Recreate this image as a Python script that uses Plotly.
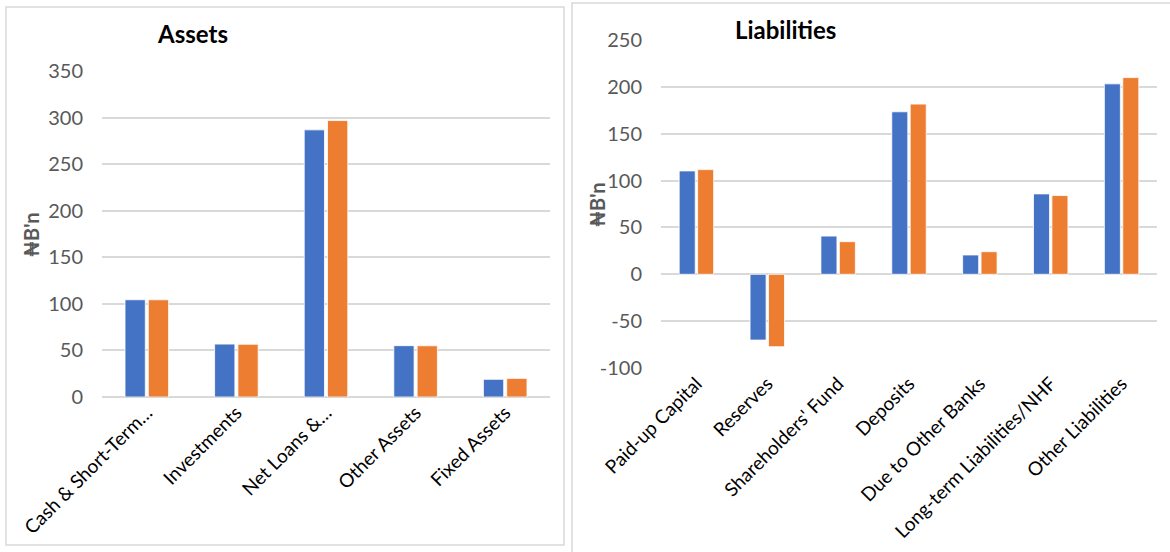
import plotly.graph_objects as go

W, H = 1170, 552

# Assets (left panel)
asset_categories = ["Cash & Short-Term…", "Investments", "Net Loans &…", "Other Assets", "Fixed Assets"]
assets_prev = [104.4, 56.8, 286.8, 55.1, 19.0]
assets_curr = [104.4, 56.6, 296.8, 55.0, 20.0]
asset_ticks = [0, 50, 100, 150, 200, 250, 300, 350]

# Liabilities (right panel)
liab_categories = ["Paid-up Capital", "Reserves", "Shareholders' Fund", "Deposits",
                   "Due to Other Banks", "Long-term Liabilities/NHF", "Other Liabilities"]
liab_prev = [110.3, -70.2, 40.8, 173.4, 20.6, 85.8, 203.2]
liab_curr = [111.7, -77.3, 34.8, 181.6, 24.1, 84.0, 209.9]
liab_ticks = [-100, -50, 0, 50, 100, 150, 200, 250]

BLUE = "#4472C4"
ORANGE = "#ED7D31"
GRID = "#d9d9d9"
TICK = "#595959"
FONT = "Lato"


def px_x(v):
    return v / W


def px_y(v):
    return 1 - v / H


fig = go.Figure()

bar_line = dict(color="white", width=0.8)
fig.add_trace(go.Bar(x=asset_categories, y=assets_prev, name="Prior year",
                     marker=dict(color=BLUE, line=bar_line), xaxis="x", yaxis="y"))
fig.add_trace(go.Bar(x=asset_categories, y=assets_curr, name="Current year",
                     marker=dict(color=ORANGE, line=bar_line), xaxis="x", yaxis="y"))
fig.add_trace(go.Bar(x=liab_categories, y=liab_prev, name="Prior year",
                     marker=dict(color=BLUE, line=bar_line), xaxis="x2", yaxis="y2"))
fig.add_trace(go.Bar(x=liab_categories, y=liab_curr, name="Current year",
                     marker=dict(color=ORANGE, line=bar_line), xaxis="x2", yaxis="y2"))

xcommon = dict(showgrid=False, showline=False, zeroline=False, ticks="",
               tickangle=-45, tickfont=dict(family=FONT, size=19, color="#000000"),
               automargin=False, fixedrange=True)
ycommon = dict(showgrid=True, gridcolor=GRID, gridwidth=1.5, showline=False,
               zeroline=True, zerolinecolor=GRID, zerolinewidth=1.5, ticks="",
               tickfont=dict(family=FONT, size=20, color=TICK), tickmode="array",
               ticklabelstandoff=18, automargin=False, fixedrange=True)

naira = "₦B'n"

fig.update_layout(
    width=W, height=H,
    margin=dict(l=0, r=0, t=0, b=0, autoexpand=False),
    paper_bgcolor="white", plot_bgcolor="white",
    showlegend=False,
    barmode="group", bargap=0.48, bargroupgap=0.13,
    xaxis=dict(domain=[px_x(102), px_x(550)], anchor="y", **xcommon),
    yaxis=dict(domain=[px_y(397), px_y(71)], anchor="x", range=[0, 350],
               tickvals=asset_ticks, ticktext=[str(t) for t in asset_ticks], **ycommon),
    xaxis2=dict(domain=[px_x(661), px_x(1157)], anchor="y2", **xcommon),
    yaxis2=dict(domain=[px_y(368), px_y(40)], anchor="x2", range=[-100, 250],
                tickvals=liab_ticks, ticktext=[str(t) for t in liab_ticks], **ycommon),
    shapes=[
        dict(type="rect", xref="paper", yref="paper",
             x0=px_x(6), x1=px_x(564), y0=px_y(545), y1=px_y(7),
             line=dict(color=GRID, width=1.5), layer="below"),
        dict(type="rect", xref="paper", yref="paper",
             x0=px_x(572), x1=px_x(1175), y0=px_y(560), y1=px_y(3),
             line=dict(color=GRID, width=1.5), layer="below"),
    ],
    annotations=[
        dict(text="<b>Assets</b>", xref="paper", yref="paper",
             x=px_x(192), y=px_y(33), xanchor="center", yanchor="middle",
             showarrow=False, font=dict(family=FONT, size=24, color="#000000")),
        dict(text="<b>Liabilities</b>", xref="paper", yref="paper",
             x=px_x(786), y=px_y(29), xanchor="center", yanchor="middle",
             showarrow=False, font=dict(family=FONT, size=24, color="#000000")),
        dict(text="<b>" + naira + "</b>", xref="paper", yref="paper",
             x=px_x(31), y=px_y(235), xanchor="center", yanchor="middle",
             textangle=-90, showarrow=False,
             font=dict(family=FONT, size=20, color=TICK)),
        dict(text="<b>" + naira + "</b>", xref="paper", yref="paper",
             x=px_x(597), y=px_y(205), xanchor="center", yanchor="middle",
             textangle=-90, showarrow=False,
             font=dict(family=FONT, size=20, color=TICK)),
    ],
)

fig.write_html("out.html")
